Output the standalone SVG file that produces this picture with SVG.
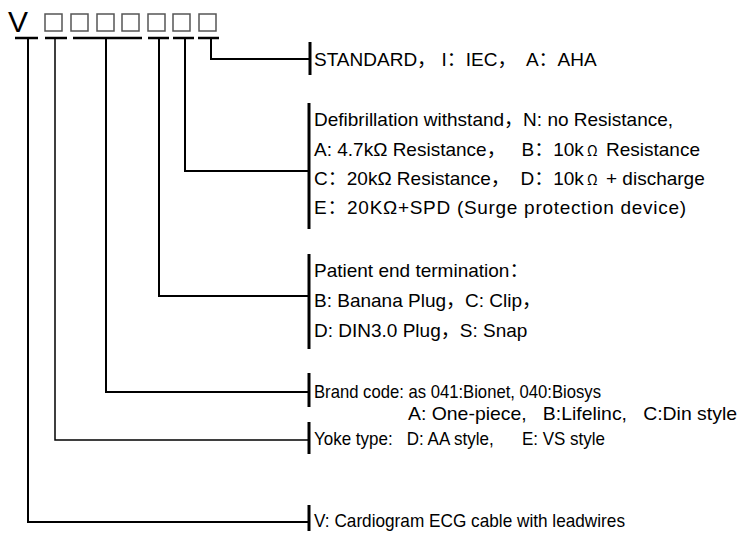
<svg xmlns="http://www.w3.org/2000/svg" width="740" height="535" viewBox="0 0 740 535">
<style>
.t{font-family:"Liberation Sans","Noto Sans CJK SC",Arial,sans-serif;font-size:19px;fill:#000}
.c{font-family:"Noto Sans CJK SC","Liberation Sans",sans-serif}
.o{font-family:"Noto Sans CJK SC","Liberation Sans",sans-serif;font-size:14px}
.w{fill:none;stroke:#000;stroke-width:2}
.bar{stroke:#000;stroke-width:3}
.ul{stroke:#000;stroke-width:2.5}
.sq{fill:#fff;stroke:#555;stroke-width:1.5}
</style>
<rect width="740" height="535" fill="#fff"/>
<g id="code">
<text x="8" y="32" class="t" style="font-size:30px">V</text>
<rect class="sq" x="45" y="14" width="17" height="17"/>
<rect class="sq" x="71" y="14" width="17" height="17"/>
<rect class="sq" x="97" y="14" width="17" height="17"/>
<rect class="sq" x="122" y="14" width="17" height="17"/>
<rect class="sq" x="148" y="14" width="17" height="17"/>
<rect class="sq" x="173" y="14" width="17" height="17"/>
<rect class="sq" x="199" y="14" width="17" height="17"/>
<line class="ul" x1="15" y1="38" x2="38" y2="38"/>
<line class="ul" x1="45" y1="38" x2="67" y2="38"/>
<line class="ul" x1="73" y1="38" x2="142" y2="38"/>
<line class="ul" x1="148" y1="38" x2="169" y2="38"/>
<line class="ul" x1="173" y1="38" x2="194" y2="38"/>
<line class="ul" x1="198" y1="38" x2="219" y2="38"/>
</g>
<g id="connectors">
<path class="w" d="M211,38 V59 H310"/>
<path class="w" d="M185,38 V171 H309"/>
<path class="w" d="M159,38 V296 H309"/>
<path class="w" d="M106,38 V392 H309"/>
<path class="w" d="M55,38 V440 H309" style="stroke-width:1.5"/>
<path class="w" d="M28,38 V522 H309"/>
</g>
<g id="standard">
<line class="bar" x1="310" y1="42" x2="310" y2="75"/>
<text class="t" x="314" y="66" xml:space="preserve">STANDARD<tspan class="c">，</tspan> I<tspan class="c">：</tspan>IEC<tspan class="c">，</tspan>  A<tspan class="c">：</tspan>AHA</text>
</g>
<g id="defib">
<line class="bar" x1="309" y1="103" x2="309" y2="229"/>
<text class="t" x="314" y="126" xml:space="preserve">Defibrillation withstand<tspan class="c">，</tspan>N: no Resistance,</text>
<text class="t" x="314" y="156" xml:space="preserve">A: 4.7kΩ Resistance<tspan class="c">，</tspan>   B<tspan class="c">：</tspan>10k<tspan class="o"> Ω </tspan> Resistance</text>
<text class="t" x="314" y="185" xml:space="preserve">C<tspan class="c">：</tspan>20kΩ Resistance<tspan class="c">，</tspan>  D<tspan class="c">：</tspan>10k<tspan class="o"> Ω </tspan> + discharge</text>
<text class="t" x="314" y="214" textLength="372" lengthAdjust="spacing" xml:space="preserve">E<tspan class="c">：</tspan>20KΩ+SPD (Surge protection device)</text>
</g>
<g id="patient">
<line class="bar" x1="309" y1="254" x2="309" y2="349"/>
<text class="t" x="314" y="277" xml:space="preserve">Patient end termination<tspan class="c">：</tspan></text>
<text class="t" x="314" y="307" xml:space="preserve">B: Banana Plug<tspan class="c">，</tspan>C: Clip<tspan class="c">，</tspan></text>
<text class="t" x="314" y="337" xml:space="preserve">D: DIN3.0 Plug<tspan class="c">，</tspan>S: Snap</text>
</g>
<g id="brand">
<line class="bar" x1="309" y1="373" x2="309" y2="407"/>
<text class="t" x="314" y="398" textLength="287" lengthAdjust="spacingAndGlyphs">Brand code: as 041:Bionet, 040:Biosys</text>
<text class="t" x="408" y="420" textLength="329" lengthAdjust="spacingAndGlyphs" xml:space="preserve">A: One-piece,   B:Lifelinc,   C:Din style</text>
</g>
<g id="yoke">
<line class="bar" x1="309" y1="422" x2="309" y2="454"/>
<text class="t" x="314" y="445" textLength="291" lengthAdjust="spacingAndGlyphs" xml:space="preserve">Yoke type:   D: AA style,      E: VS style</text>
</g>
<g id="v">
<line class="bar" x1="309" y1="505" x2="309" y2="531"/>
<text class="t" x="314" y="527" textLength="311" lengthAdjust="spacingAndGlyphs">V: Cardiogram ECG cable with leadwires</text>
</g>
</svg>
